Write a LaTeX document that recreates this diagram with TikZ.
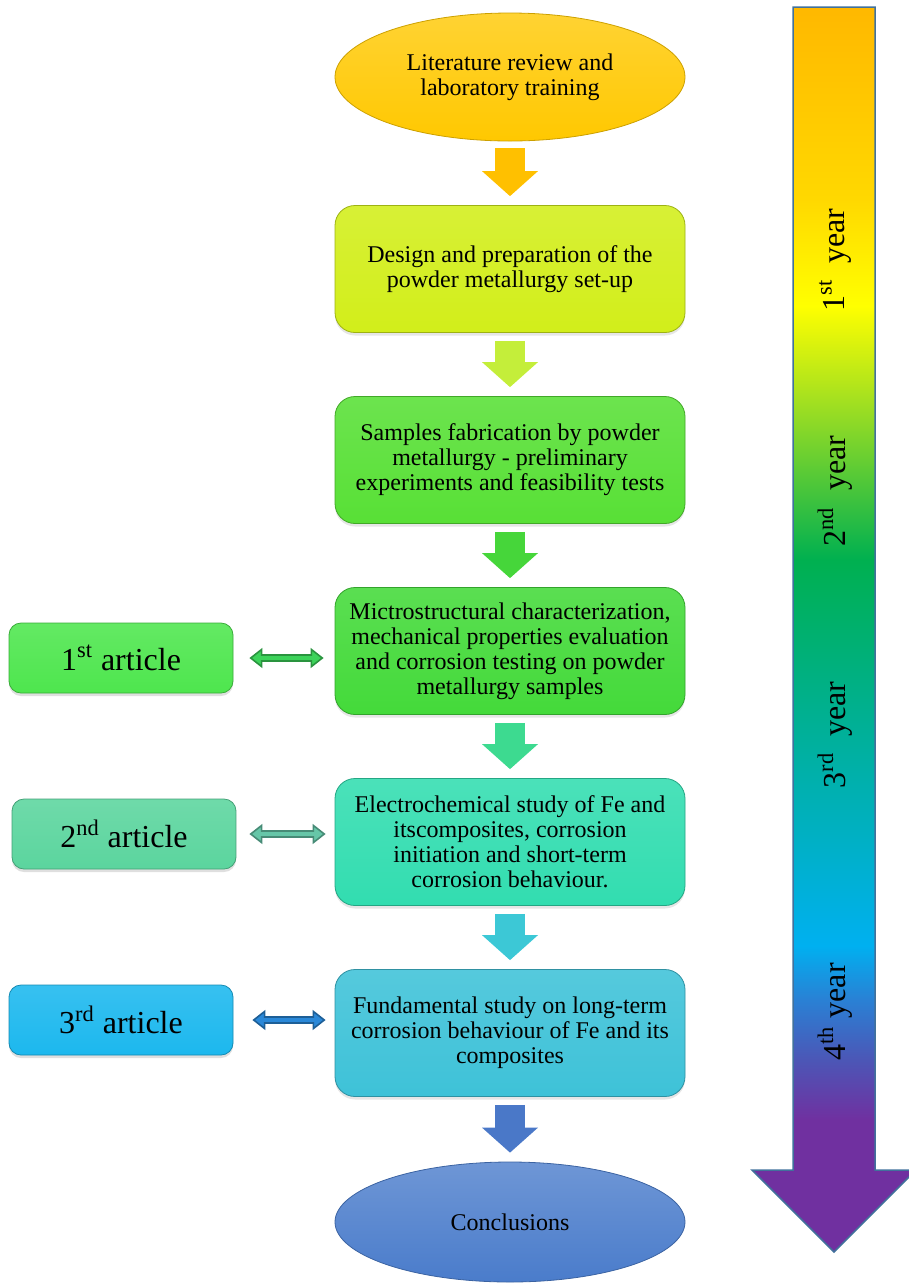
\documentclass[tikz,border=0pt]{standalone}
\usepackage{fontspec}
\setmainfont{Liberation Serif}
\usepackage{tikz}
\usetikzlibrary{positioning,arrows.meta,shapes.geometric,shadows}

\definecolor{litgold}{HTML}{FFC800}
\definecolor{endblue}{HTML}{4A7CCB}
\definecolor{designlime}{HTML}{D2EE1A}
\definecolor{samplegreen}{HTML}{58E036}
\definecolor{microgreen}{HTML}{44DA3A}
\definecolor{electroaqua}{HTML}{32DDB0}
\definecolor{fundcyan}{HTML}{3EC2D8}
\definecolor{artgreen}{HTML}{4EE64E}
\definecolor{artmint}{HTML}{5BD59E}
\definecolor{artsky}{HTML}{1CB8EE}
\definecolor{flowgold}{HTML}{FFC000}
\definecolor{flowlime}{HTML}{C4EE3A}
\definecolor{flowgreen}{HTML}{46D63A}
\definecolor{flowmint}{HTML}{3DDA90}
\definecolor{flowcyan}{HTML}{3CC8D6}
\definecolor{flowblue}{HTML}{4A78C8}
\definecolor{linkgreen}{HTML}{3CD35A}
\definecolor{linkteal}{HTML}{66C6A8}
\definecolor{linkblue}{HTML}{2A88D8}
\definecolor{barblue}{HTML}{41719C}
% colours of the time bar
\definecolor{yrorange}{HTML}{FFB800}
\definecolor{yrgold}{HTML}{FFD800}
\definecolor{yryellow}{HTML}{FFFF00}
\definecolor{yrlime}{HTML}{A4E020}
\definecolor{yrgreen}{HTML}{00B050}
\definecolor{yrteal}{HTML}{00B0A8}
\definecolor{yrcyan}{HTML}{00B0F0}
\definecolor{yrblue}{HTML}{2A80D4}
\definecolor{yrindigo}{HTML}{4C56B6}
\definecolor{yrpurple}{HTML}{7030A0}

\pgfdeclareverticalshading{yearbar}{100bp}{color(0bp)=(yrpurple); color(30.3bp)=(yrpurple); color(32.7bp)=(yrindigo); color(35.1bp)=(yrblue); color(37.3bp)=(yrcyan); color(44.4bp)=(yrteal); color(52.8bp)=(yrgreen); color(59.2bp)=(yrlime); color(63bp)=(yryellow); color(67.3bp)=(yrgold); color(75bp)=(yrorange); color(100bp)=(yrorange)}

\begin{document}
\begin{tikzpicture}[
    x=0.5pt, y=-0.5pt,
    oval/.style={ellipse, draw=#1!80!black, top color=#1!80!white, bottom color=#1, minimum width=175pt, inner sep=0pt, align=center, font=\fontsize{12}{12.5}\selectfont},
    stage/.style={rectangle, rounded corners=10pt, draw=#1!75!black, top color=#1!88!white, bottom color=#1, minimum width=175pt, minimum height=63.5pt, align=center, font=\fontsize{12}{12.5}\selectfont, drop shadow={opacity=0.2, shadow xshift=0pt, shadow yshift=-1.5pt}},
    paper/.style={rectangle, rounded corners=6pt, draw=#1!75!black, top color=#1!88!white, bottom color=#1, minimum width=112pt, minimum height=35pt, font=\fontsize{16}{18}\selectfont, drop shadow={opacity=0.25, shadow xshift=0pt, shadow yshift=-1.5pt}},
    flow/.style={line width=15pt, draw=#1, -{Triangle[length=12.5pt, width=28pt, line width=0pt]}},
    link/.style={line width=4pt, draw=#1!70!black, {Triangle[length=6.5pt, width=10pt, fill=#1, line width=0.8pt]}-{Triangle[length=6.5pt, width=10pt, fill=#1, line width=0.8pt]}, postaction={draw=#1, line width=2.4pt, arrows=-, shorten <=5.5pt, shorten >=5.5pt}},
    yearlbl/.style={rotate=90, font=\fontsize{16}{18}\selectfont},
]
\useasboundingbox (0,0) rectangle (909,1287);

% main flow
\node[oval=litgold, minimum height=64pt] (lit) at (510,77) {Literature review and\\laboratory training};
\node[stage=designlime] (design) at (510,269) {Design and preparation of the\\powder metallurgy set-up};
\node[stage=samplegreen] (samples) at (510,460) {Samples fabrication by powder\\metallurgy - preliminary\\experiments and feasibility tests};
\node[stage=microgreen] (micro) at (510,651) {Mictrostructural characterization,\\mechanical properties evaluation\\and corrosion testing on powder\\metallurgy samples};
\node[stage=electroaqua] (electro) at (510,842) {Electrochemical study of Fe and\\itscomposites, corrosion\\initiation and short-term\\corrosion behaviour.};
\node[stage=fundcyan] (fund) at (510,1033) {Fundamental study on long-term\\corrosion behaviour of Fe and its\\composites};
\node[oval=endblue, minimum height=60pt] (concl) at (510,1222) {Conclusions};

\draw[flow=flowgold] ([yshift=-3.5pt]lit.south) -- ([yshift=4.5pt]design.north);
\draw[flow=flowlime] ([yshift=-4pt]design.south) -- ([yshift=4.5pt]samples.north);
\draw[flow=flowgreen] ([yshift=-4pt]samples.south) -- ([yshift=4.5pt]micro.north);
\draw[flow=flowmint] ([yshift=-4pt]micro.south) -- ([yshift=4.5pt]electro.north);
\draw[flow=flowcyan] ([yshift=-4pt]electro.south) -- ([yshift=4.5pt]fund.north);
\draw[flow=flowblue] ([yshift=-4pt]fund.south) -- ([yshift=4.5pt]concl.north);

% articles
\node[paper=artgreen] (art1) at (121,658) {1\textsuperscript{st} article};
\node[paper=artmint] (art2) at (124,834) {2\textsuperscript{nd} article};
\node[paper=artsky] (art3) at (121,1020) {3\textsuperscript{rd} article};

\draw[link=linkgreen] ([xshift=8pt]art1.east) -- ([xshift=-5.5pt]art1.east -| micro.west);
\draw[link=linkteal] ([xshift=6.5pt]art2.east) -- ([xshift=-4.5pt]art2.east -| electro.west);
\draw[link=linkblue] ([xshift=9.5pt]art3.east) -- ([xshift=-4.5pt]art3.east -| fund.west);

% time bar
\shadedraw[shading=yearbar, draw=barblue, line width=0.75pt] (793,7) -- (875,7) -- (875,1170) -- (916,1170) -- (834,1252) -- (752,1170) -- (793,1170) -- cycle;
\node[yearlbl] (year1) at (835,260) {1\textsuperscript{st}\ \ year};
\node[yearlbl] (year2) at (835,491) {2\textsuperscript{nd}\ \ year};
\node[yearlbl] (year3) at (835,735) {3\textsuperscript{rd}\ \ year};
\node[yearlbl] (year4) at (835,1012) {4\textsuperscript{th} year};
\end{tikzpicture}
\end{document}
